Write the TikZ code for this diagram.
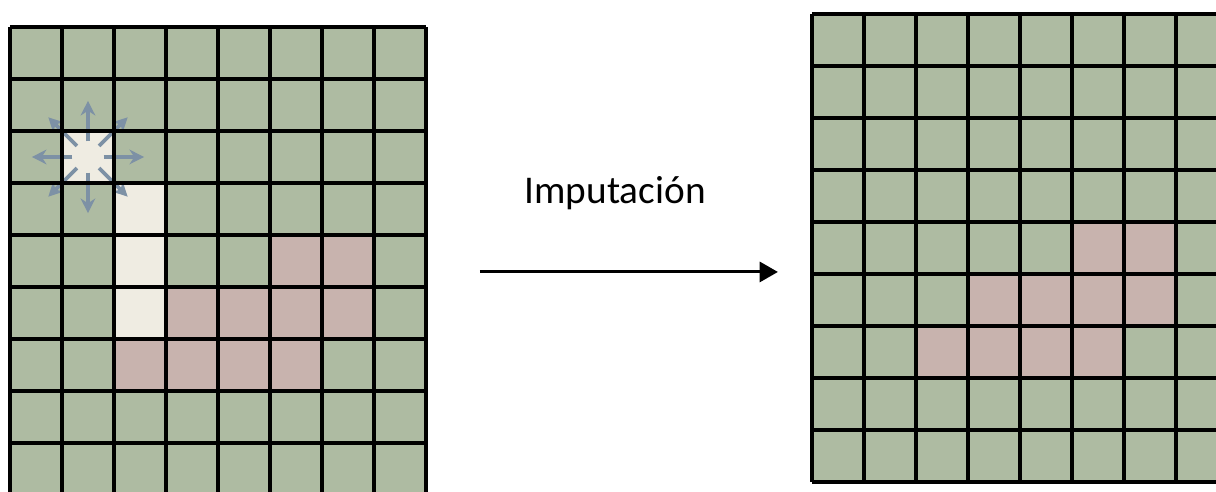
\documentclass[tikz,border=0pt]{standalone}
\usepackage{fontspec}
\setmainfont{Carlito}
\usepackage{tikz}
\usetikzlibrary{arrows.meta}

\definecolor{cellgreen}{RGB}{174,187,162}
\definecolor{cellpink}{RGB}{200,179,174}
\definecolor{cellwhite}{RGB}{239,236,226}
\definecolor{spokeblue}{RGB}{125,145,165}

\tikzset{
    gridline/.style={line width=2.2pt, color=black},
    spoke/.style={line width=2pt, color=spokeblue, -{Stealth[length=8pt,width=8pt]}},
    imparrow/.style={line width=1.6pt, -{Triangle[length=10pt,width=11pt]}}
}

\begin{document}
\begin{tikzpicture}
        \useasboundingbox (0,0) rectangle (23.385,-9.4615);

        % left grid, with missing cells
        \begin{scope}[shift={(0.192,-0.519)}]
            \fill[cellgreen] (0,0) rectangle (8,-9);
            \foreach \c/\r in {5/4,6/4,3/5,4/5,5/5,6/5,2/6,3/6,4/6,5/6}
                \fill[cellpink] (\c,-\r) rectangle ++(1,-1);
            \foreach \c/\r in {1/2,2/3,2/4,2/5}
                \fill[cellwhite] (\c,-\r) rectangle ++(1,-1);
            \coordinate (hole) at (1.5,-2.5);
            \foreach \a in {0,45,...,315}
                \draw[spoke] ([shift={(\a:0.3)}]hole) -- ([shift={(\a:1.08)}]hole);
            \draw[gridline, step=1cm] (0,-9) grid (8,0);
        \end{scope}

        % label and arrow
        \node[font={\fontsize{21.5}{26}\selectfont}, black] (lbl) at (11.83,-3.72) {Imputación};
        \coordinate (from) at (9.23,-5.23);
        \coordinate (to) at (14.96,-5.23);
        \draw[imparrow] (from) -- (to);

        % right grid, imputed
        \begin{scope}[shift={(15.615,-0.269)}]
            \fill[cellgreen] (0,0) rectangle (8,-9);
            \foreach \c/\r in {5/4,6/4,3/5,4/5,5/5,6/5,2/6,3/6,4/6,5/6}
                \fill[cellpink] (\c,-\r) rectangle ++(1,-1);
            \draw[gridline, step=1cm] (0,-9) grid (8,0);
        \end{scope}
    \end{tikzpicture}
\end{document}
